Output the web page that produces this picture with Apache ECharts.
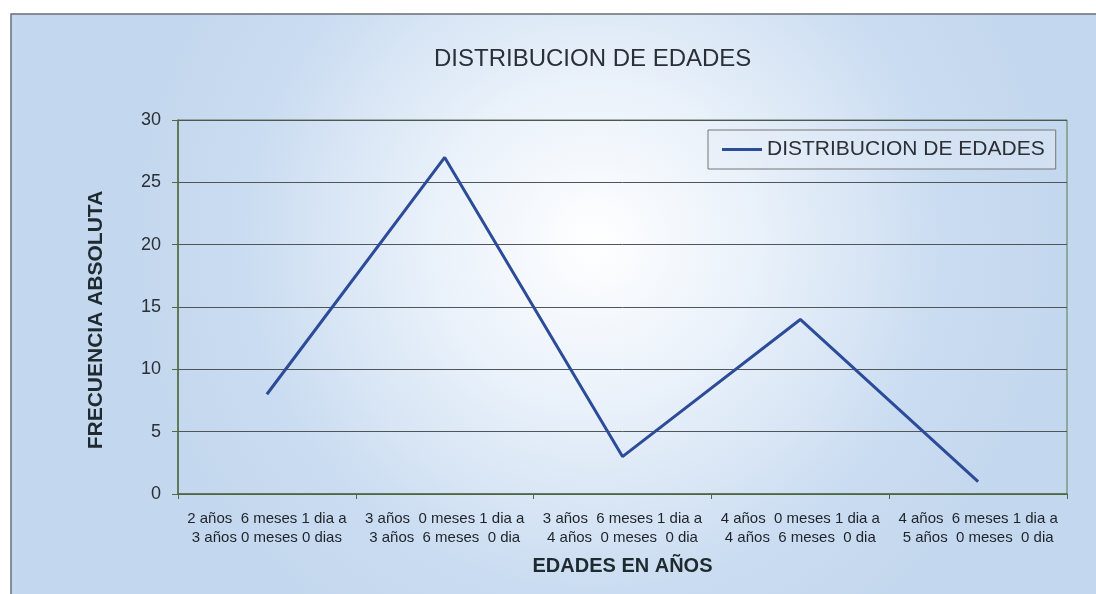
<!DOCTYPE html>
<html>
<head>
<meta charset="utf-8">
<script src="https://cdn.jsdelivr.net/npm/echarts@6/dist/echarts.min.js"></script>
<style>
	html, body { margin: 0; padding: 0; background: #fff; }
	#chart { width: 1096px; height: 594px; }
</style>
</head>
<body>
<div id="chart"></div>
<script>
	// datos
	const edades = [
		'2 años  6 meses 1 dia a\n3 años 0 meses 0 dias',
		'3 años  0 meses 1 dia a\n3 años  6 meses  0 dia',
		'3 años  6 meses 1 dia a\n4 años  0 meses  0 dia',
		'4 años  0 meses 1 dia a\n4 años  6 meses  0 dia',
		'4 años  6 meses 1 dia a\n5 años  0 meses  0 dia'
	]
	const frecuencia = [8, 27, 3, 14, 1]

	var myChart = echarts.init(document.getElementById('chart'))

	var option = {
		textStyle: { fontFamily: 'Liberation Sans, Arial, sans-serif' },
		graphic: [{
			type: 'rect',
			z: -10,
			silent: true,
			shape: { x: 11, y: 14, width: 1100, height: 600 },
			style: {
				fill: {
					type: 'radial',
					x: 0.53,
					y: 0.38,
					r: 0.78,
					colorStops: [
						{ offset: 0, color: '#ffffff' },
						{ offset: 0.35, color: '#e9f1fa' },
						{ offset: 0.75, color: '#cadcf1' },
						{ offset: 1, color: '#c3d7ee' }
					]
				},
				stroke: '#6a6f74',
				lineWidth: 1.5
			}
		}],
		title: {
			text: 'DISTRIBUCION DE EDADES',
			left: 429,
			top: 42,
			textStyle: {
				color: '#2b2f36',
				fontSize: 24,
				fontWeight: 'normal'
			}
		},
		legend: {
			left: 708,
			top: 130,
			padding: [9, 11, 9, 14],
			borderColor: '#777',
			borderWidth: 1,
			backgroundColor: 'rgba(230,238,248,0.4)',
			itemWidth: 40,
			itemHeight: 3,
			textStyle: { color: '#2b2f36', fontSize: 21 },
			data: [{ name: 'DISTRIBUCION DE EDADES', icon: 'rect' }]
		},
		grid: {
			left: 178,
			top: 120,
			right: 29,
			bottom: 100,
			show: true,
			borderColor: '#5c7a4c',
			borderWidth: 1
		},
		xAxis: {
			type: 'category',
			data: edades,
			name: 'EDADES EN AÑOS',
			nameLocation: 'middle',
			nameGap: 62,
			nameTextStyle: { color: '#1e2a30', fontSize: 20, fontWeight: 'bold' },
			axisLine: { lineStyle: { color: '#4f6b3f', width: 1.5 } },
			axisTick: { show: true, length: 5, lineStyle: { color: '#4f6b3f' } },
			axisLabel: {
				interval: 0,
				margin: 15,
				color: '#1e2329',
				fontSize: 15,
				lineHeight: 19
			}
		},
		yAxis: {
			type: 'value',
			min: 0,
			max: 30,
			interval: 5,
			name: 'FRECUENCIA ABSOLUTA',
			nameLocation: 'middle',
			nameGap: 71,
			nameTextStyle: { color: '#1e2a30', fontSize: 21, fontWeight: 'bold', padding: [0, 0, 0, -26] },
			axisLine: { show: true, lineStyle: { color: '#4f6b3f', width: 1.5 } },
			axisTick: { show: true, length: 6, lineStyle: { color: '#4f6b3f' } },
			axisLabel: { color: '#2b2f36', fontSize: 18, margin: 17 },
			splitLine: { lineStyle: { color: '#50555a', width: 1 } }
		},
		series: [{
			name: 'DISTRIBUCION DE EDADES',
			type: 'line',
			data: frecuencia,
			symbol: 'none',
			color: '#2c4b99',
			lineStyle: { color: '#2c4b99', width: 3 }
		}]
	}

	myChart.setOption(option)
</script>
</body>
</html>
